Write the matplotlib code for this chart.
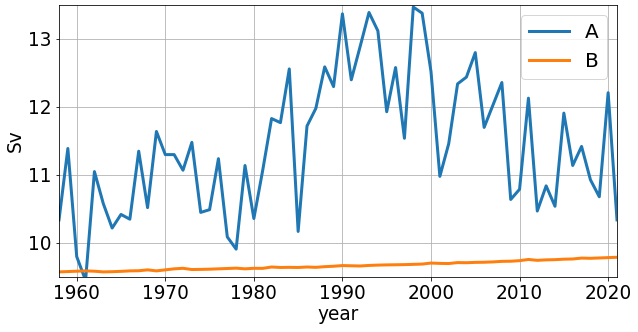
import matplotlib
matplotlib.use("Agg")
import matplotlib.pyplot as plt
import numpy as np

years = np.arange(1958, 2022)

# transport of series A
a_values = [
    10.34, 11.39, 9.80, 9.45, 11.05, 10.58, 10.22, 10.42, 10.35, 11.35,
    10.52, 11.64, 11.30, 11.30, 11.07, 11.48, 10.45, 10.49, 11.24, 10.09,
    9.91, 11.14, 10.36, 11.07, 11.83, 11.77, 12.56, 10.17, 11.72, 11.98,
    12.59, 12.30, 13.37, 12.40, 12.89, 13.39, 13.12, 11.93, 12.58, 11.54,
    13.47, 13.38, 12.52, 10.98, 11.46, 12.34, 12.44, 12.80, 11.70, 12.03,
    12.36, 10.64, 10.79, 12.13, 10.47, 10.84, 10.54, 11.91, 11.14, 11.42,
    10.93, 10.68, 12.21, 10.34,
]

# series B, slowly rising
b_values = [
    9.575, 9.58, 9.585, 9.59, 9.585, 9.575, 9.578, 9.583, 9.59, 9.592,
    9.605, 9.59, 9.605, 9.62, 9.628, 9.61, 9.612, 9.615, 9.62, 9.625,
    9.63, 9.62, 9.628, 9.627, 9.647, 9.64, 9.642, 9.64, 9.647, 9.642,
    9.652, 9.658, 9.668, 9.665, 9.662, 9.67, 9.675, 9.678, 9.68, 9.682,
    9.686, 9.69, 9.705, 9.70, 9.698, 9.712, 9.71, 9.715, 9.717, 9.722,
    9.73, 9.732, 9.74, 9.758, 9.745, 9.752, 9.755, 9.762, 9.765, 9.778,
    9.775, 9.78, 9.785, 9.79,
]

plt.rcParams["font.size"] = 18.5

fig = plt.figure(figsize=(638 / 72, 332 / 72), dpi=72)
ax = fig.add_axes([59 / 638, 1 - 277 / 332, 558 / 638, 272 / 332])

ax.plot(years, a_values, lw=3, label="A")
ax.plot(years, b_values, lw=3, label="B")

ax.set_xlim(1958, 2021)
ax.set_ylim(9.5, 13.5)
ax.set_yticks([10, 11, 12, 13])
ax.grid(True)
ax.set_xlabel("year", labelpad=2)
ax.set_ylabel("Sv")
ax.legend(loc="upper right", fontsize=20)

fig.savefig("out.png", dpi=72)
